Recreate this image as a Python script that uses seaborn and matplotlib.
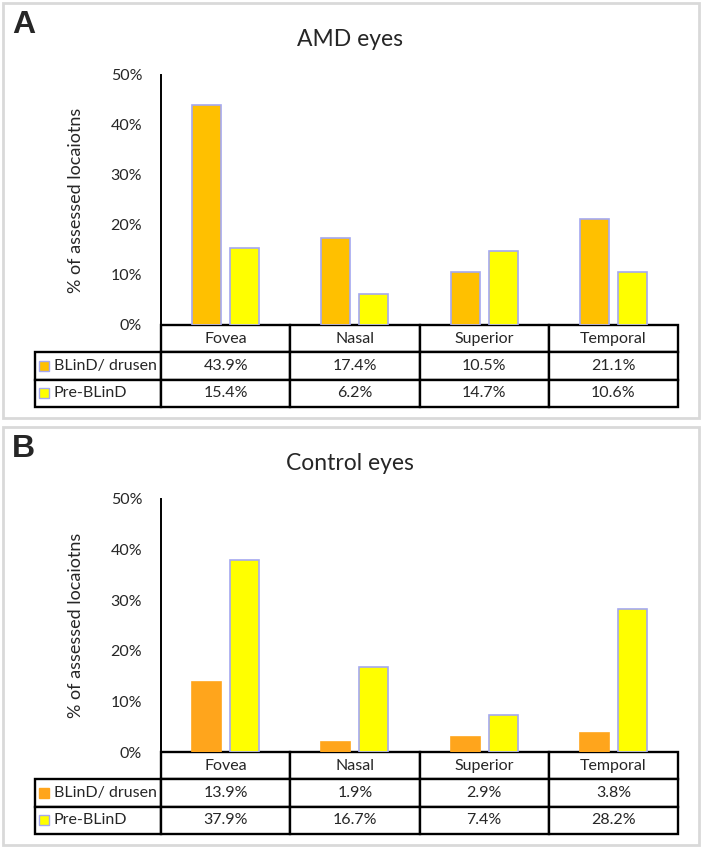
#importing the libraries
import matplotlib
matplotlib.use('Agg')
import pandas as pd
import matplotlib.pyplot as plt
import seaborn as sns
from matplotlib.patches import Rectangle

# data (percent of assessed locations)
locations = ['Fovea', 'Nasal', 'Superior', 'Temporal']
series = ['BLinD/ drusen', 'Pre-BLinD']
amd_blind = [43.9, 17.4, 10.5, 21.1]
amd_pre = [15.4, 6.2, 14.7, 10.6]
ctrl_blind = [13.9, 1.9, 2.9, 3.8]
ctrl_pre = [37.9, 16.7, 7.4, 28.2]
y_ticks = [0, 10, 20, 30, 40, 50]

sns.set_style('white')
plt.rcParams['font.family'] = ['Lato', 'DejaVu Sans']

W, H = 703, 848
fig = plt.figure(figsize=(W / 100, H / 100), dpi=100)


def px_rect(x0, y0, x1, y1):
    # pixel box -> figure fraction [left, bottom, width, height]
    return [x0 / W, 1 - y1 / H, (x1 - x0) / W, (y1 - y0) / H]


def draw_panel(letter, title, blind, pre, colors, edges, box, axbox, table_bottom, title_y):
    # grey frame round the panel
    fig.patches.append(Rectangle((box[0] / W, 1 - box[3] / H), (box[2] - box[0]) / W,
                                 (box[3] - box[1]) / H, transform=fig.transFigure,
                                 fill=False, edgecolor='#D9D9D9', lw=2))
    fig.text(12 / W, 1 - (box[1] + 22) / H, letter, fontsize=23, fontweight='bold',
             family='Liberation Sans', va='center', ha='left')
    fig.text(350 / W, 1 - title_y / H, title, fontsize=16.5, ha='center', va='center')

    ax = fig.add_axes(px_rect(*axbox))
    df = pd.DataFrame({'location': locations * 2,
                       'series': [series[0]] * 4 + [series[1]] * 4,
                       'value': blind + pre})
    sns.barplot(data=df, x='location', y='value', hue='series', palette=colors,
                width=0.59, gap=0.24, saturation=1, legend=False, ax=ax)
    for cont, ec in zip(ax.containers, edges):
        for bar in cont:
            bar.set_edgecolor(ec)
            bar.set_linewidth(1.2)

    ax.set_xlim(-0.5, 3.5)
    ax.set_ylim(0, 50)
    ax.set_yticks(y_ticks)
    ax.set_yticklabels([f'{t}%' for t in y_ticks], fontsize=11.5)
    ax.tick_params(left=False, bottom=False, pad=10)
    ax.set_xticks([])
    ax.set_xlabel('')
    ax.set_ylabel('% of assessed locaiotns', fontsize=13)
    ax.yaxis.set_label_coords((84 - axbox[0]) / (axbox[2] - axbox[0]), 0.5)
    sns.despine(ax=ax, top=True, right=True, bottom=True)
    ax.spines['left'].set_color('black')
    ax.spines['left'].set_linewidth(1.4)

    # data table under the bars (first column holds the series names)
    aw = axbox[2] - axbox[0]
    ah = axbox[3] - axbox[1]
    cell_text = [[''] + locations,
                 [series[0]] + [f'{v:.1f}%' for v in blind],
                 [series[1]] + [f'{v:.1f}%' for v in pre]]
    tbl = ax.table(cellText=cell_text, cellLoc='center',
                   colWidths=[126 / 643] + [129 / 643] * 4,
                   bbox=[(35 - axbox[0]) / aw, -(table_bottom - axbox[3]) / ah,
                         (678 - 35) / aw, (table_bottom - axbox[3]) / ah])
    tbl.auto_set_font_size(False)
    tbl.set_fontsize(11.5)
    for (r, c), cell in tbl.get_celld().items():
        cell.set_linewidth(1.7)
        cell.set_edgecolor('black')
        if c == 0:
            cell._loc = 'left'
            cell.PAD = 0.15
            cell.get_text().set_ha('left')
    tbl[0, 0].visible_edges = ''

    # legend keys inside the row label cells
    row_h = (table_bottom - axbox[3]) / 3
    for i in range(2):
        cy = axbox[3] + row_h * (i + 1.5)
        fig.patches.append(Rectangle((39 / W, 1 - (cy + 5) / H), 10 / W, 10 / H,
                                     transform=fig.transFigure, facecolor=colors[i],
                                     edgecolor=edges[i], lw=1))
    return ax


draw_panel('A', 'AMD eyes', amd_blind, amd_pre, ['#FFC000', '#FFFF00'],
           ['#A4A8F0', '#A4A8F0'], (3, 3, 699, 418), (161, 75, 678, 325), 407, 40)
draw_panel('B', 'Control eyes', ctrl_blind, ctrl_pre, ['#FFA51C', '#FFFF00'],
           ['#FFA51C', '#A4A8F0'], (3, 427, 699, 845), (161, 499, 678, 752), 834, 463)

plt.savefig('out.png', dpi=100)
